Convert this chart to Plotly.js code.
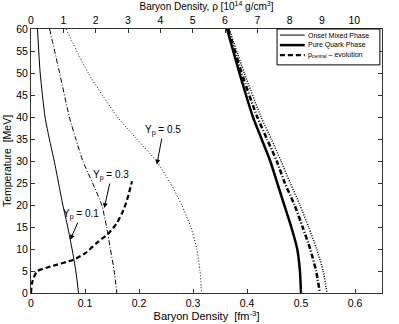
<!DOCTYPE html>
<html>
<head>
<meta charset="utf-8">
<script src="https://cdn.plot.ly/plotly-3.0.1.min.js"></script>
<style>
  html, body { margin: 0; padding: 0; background: #fff; }
  #chart { width: 399px; height: 324px; }
</style>
</head>
<body>
<div id="chart"></div>
<script>
// temperatures [MeV] at which the phase-boundary curves were read
const temps = [60, 50, 40, 35, 30, 25, 20, 15, 10, 5, 0];

// onset of mixed phase, baryon density [fm^-3]
const onsetYp01 = [0.012, 0.017, 0.026, 0.034, 0.043, 0.051, 0.059, 0.068, 0.076, 0.083, 0.088];
const onsetYp03 = [0.0345, 0.053, 0.071, 0.083, 0.096, 0.114, 0.131, 0.140, 0.147, 0.154, 0.159];
const onsetYp05 = [0.065, 0.106, 0.160, 0.196, 0.232, 0.258, 0.279, 0.296, 0.307, 0.313, 0.316];

// pure quark phase
const quarkYp01 = [0.363, 0.386, 0.411, 0.427, 0.443, 0.456, 0.469, 0.482, 0.493, 0.498, 0.500];
const quarkYp03 = [0.365, 0.390, 0.419, 0.437, 0.455, 0.470, 0.488, 0.503, 0.517, 0.528, 0.535];
const quarkYp05 = [0.367, 0.395, 0.426, 0.445, 0.463, 0.480, 0.498, 0.514, 0.529, 0.541, 0.548];

// central density evolution
const centralRho = [0, 0.002, 0.011, 0.036, 0.079, 0.100, 0.122, 0.144, 0.159, 0.170, 0.178, 0.187];
const centralT   = [0, 2.3, 4.9, 6.0, 7.6, 9.0, 11.4, 13.6, 15.9, 18.5, 21.2, 25.4];

// upper axis: same density in 10^14 g/cm^3 (1 fm^-3 = 16.7 x 10^14 g/cm^3)
const topTicks = [0, 1, 2, 3, 4, 5, 6, 7, 8, 9, 10];
const rhoConv = 16.7;

// legend entries (label, line width, dash)
const legendLabels = ['Onset Mixed Phase', 'Pure Quark Phase', 'ρ<sub>central</sub> – evolution'];
const legendWidths = [1, 2.5, 2.2];
const legendDashes = ['solid', 'solid', '5px,3px'];

const FONT = 'Liberation Sans, Arial, Helvetica, sans-serif';

function curve(xs, width, dash) {
  return {
    x: xs, y: temps, type: 'scatter', mode: 'lines',
    line: { color: '#000', width: width, dash: dash, shape: 'spline', smoothing: 0.6 },
    showlegend: false, hoverinfo: 'skip'
  };
}

const traces = [
  curve(onsetYp01, 1, 'solid'),
  curve(onsetYp03, 1, '5px,2px,1px,2px'),
  curve(onsetYp05, 1, '1px,2px'),
  curve(quarkYp01, 2.5, 'solid'),
  curve(quarkYp03, 2.5, '5px,2px,1px,2px'),
  curve(quarkYp05, 1.5, '1px,1.5px'),
  {
    x: centralRho, y: centralT, type: 'scatter', mode: 'lines',
    line: { color: '#000', width: 2.2, dash: '5px,3px', shape: 'spline', smoothing: 0.6 },
    showlegend: false, hoverinfo: 'skip'
  },
  // carrier for the upper density axis (no visible marks)
  {
    x: topTicks, y: topTicks.map(() => null), xaxis: 'x2', yaxis: 'y',
    type: 'scatter', mode: 'lines', showlegend: false, hoverinfo: 'skip',
    line: { color: 'rgba(0,0,0,0)' }
  }
];

function arrowNote(text, tx, ty, hx, hy) {
  return {
    text: text, x: hx, y: hy, ax: tx, ay: ty,
    xref: 'x', yref: 'y', axref: 'x', ayref: 'y',
    showarrow: true, arrowhead: 2, arrowsize: 1, arrowwidth: 1,
    arrowcolor: '#000', font: { family: FONT, size: 10, color: '#000' }
  };
}

// hand-drawn legend box in paper coordinates
const legX0 = 0.701, legX1 = 0.994, legY0 = 0.864, legY1 = 1.0;
const legRowY = [0.977, 0.939, 0.901];
const shapes = [{
  type: 'rect', xref: 'paper', yref: 'paper',
  x0: legX0, x1: legX1, y0: legY0, y1: legY1,
  line: { color: '#000', width: 1 }, fillcolor: '#fff', layer: 'above'
}];
const legendNotes = [];
legendLabels.forEach((lab, i) => {
  shapes.push({
    type: 'line', xref: 'paper', yref: 'paper',
    x0: 0.709, x1: 0.780, y0: legRowY[i], y1: legRowY[i],
    line: { color: '#000', width: legendWidths[i], dash: legendDashes[i] }, layer: 'above'
  });
  legendNotes.push({
    text: lab, xref: 'paper', yref: 'paper', x: 0.784, y: legRowY[i],
    xanchor: 'left', yanchor: 'middle', showarrow: false,
    font: { family: FONT, size: 7, color: '#000' }
  });
});

const axisCommon = {
  showline: true, linecolor: '#333', linewidth: 1,
  ticks: 'inside', ticklen: 4, tickcolor: '#333',
  showgrid: false, zeroline: false,
  tickfont: { family: FONT, size: 10.5, color: '#000' }
};

const layout = {
  width: 399, height: 324,
  margin: { l: 31, r: 17, t: 29, b: 31 },
  paper_bgcolor: '#fff', plot_bgcolor: '#fff',
  font: { family: FONT, size: 10, color: '#000' },
  xaxis: Object.assign({}, axisCommon, {
    range: [0, 0.65], dtick: 0.1, mirror: true,
    title: { text: 'Baryon Density  [fm<sup>-3</sup>]', standoff: 3, font: { family: FONT, size: 11 } }
  }),
  xaxis2: Object.assign({}, axisCommon, {
    overlaying: 'x', side: 'top', anchor: 'y',
    range: [0, 0.65 * rhoConv], tickvals: topTicks,
    title: { text: 'Baryon Density, ρ [10<sup>14</sup> g/cm<sup>3</sup>]', standoff: 3, font: { family: FONT, size: 10 } }
  }),
  yaxis: Object.assign({}, axisCommon, {
    range: [0, 60], dtick: 5, mirror: 'ticks',
    title: { text: 'Temperature  [MeV]', standoff: 2, font: { family: FONT, size: 10.5 } }
  }),
  shapes: shapes,
  annotations: [
    arrowNote('Y<sub>p</sub> = 0.1', 0.093, 17.8, 0.0728, 12.1),
    arrowNote('Y<sub>p</sub> = 0.3', 0.149, 26.7, 0.1357, 19.3),
    arrowNote('Y<sub>p</sub> = 0.5', 0.245, 36.9, 0.233, 29.2)
  ].concat(legendNotes),
  showlegend: false
};

Plotly.newPlot('chart', traces, layout, { displayModeBar: false, staticPlot: true });
</script>
</body>
</html>
